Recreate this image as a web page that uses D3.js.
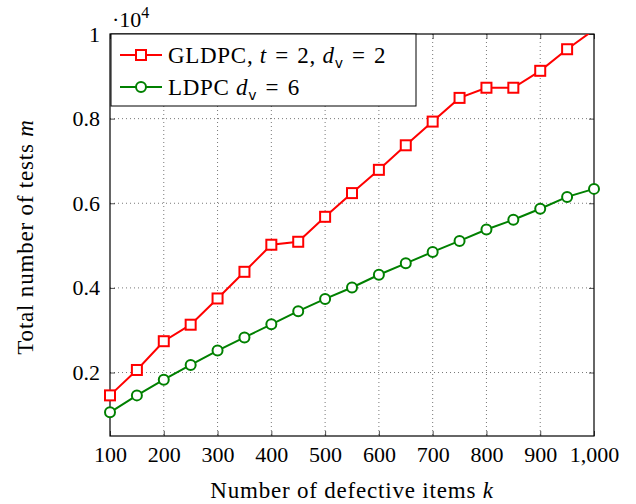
<!DOCTYPE html>
<html>
<head>
<meta charset="utf-8">
<script src="https://cdn.jsdelivr.net/npm/d3@7"></script>
<style>
  body { margin: 0; background: #fff; }
  text { font-family: "Liberation Serif", "Times New Roman", serif; fill: #000; }
</style>
</head>
<body>
<div id="chart"></div>
<script>
// number of defective items k
const kValues = [100, 150, 200, 250, 300, 350, 400, 450, 500, 550, 600, 650, 700, 750, 800, 850, 900, 950, 1000];
// total number of tests m (x 10^4)
const gldpc = [0.146, 0.206, 0.274, 0.313, 0.375, 0.438, 0.502, 0.509, 0.568, 0.624, 0.679, 0.737, 0.793, 0.849, 0.873, 0.873, 0.913, 0.964, 1.010];
const ldpc  = [0.106, 0.146, 0.183, 0.218, 0.252, 0.283, 0.314, 0.345, 0.374, 0.401, 0.431, 0.458, 0.485, 0.511, 0.538, 0.561, 0.587, 0.615, 0.634];
const xTicks = [100, 200, 300, 400, 500, 600, 700, 800, 900, 1000];
const yTicks = [0.2, 0.4, 0.6, 0.8, 1.0];

const width = 636, height = 504;
const margin = {top: 34, right: 42, bottom: 68, left: 110};
const w = width - margin.left - margin.right;
const h = height - margin.top - margin.bottom;

const svg = d3.select("#chart").append("svg")
    .attr("width", width)
    .attr("height", height);

const g = svg.append("g")
    .attr("transform", `translate(${margin.left},${margin.top})`);

const x = d3.scaleLinear().domain([100, 1000]).range([0, w]);
const y = d3.scaleLinear().domain([0.05, 1.0]).range([h, 0]);

// dotted grid
g.append("g")
    .selectAll("line")
    .data(yTicks.filter(v => v < 1))
    .enter().append("line")
    .attr("x1", 0).attr("x2", w)
    .attr("y1", d => y(d)).attr("y2", d => y(d))
    .attr("stroke", "#555")
    .attr("stroke-width", 0.8)
    .attr("stroke-dasharray", "1,3");

g.append("g")
    .selectAll("line")
    .data(xTicks.filter(v => v > 100 && v < 1000))
    .enter().append("line")
    .attr("x1", d => x(d)).attr("x2", d => x(d))
    .attr("y1", 0).attr("y2", h)
    .attr("stroke", "#555")
    .attr("stroke-width", 0.8)
    .attr("stroke-dasharray", "1,3");

// axes, ticks pointing inward
const xAxis = g.append("g")
    .attr("transform", `translate(0,${h})`)
    .call(d3.axisBottom(x).tickValues(xTicks).tickSizeInner(-5).tickSizeOuter(0)
        .tickPadding(10).tickFormat(d3.format(",")));
const xAxisTop = g.append("g")
    .call(d3.axisTop(x).tickValues(xTicks).tickSizeInner(-5).tickSizeOuter(0).tickFormat(""));
const yAxis = g.append("g")
    .call(d3.axisLeft(y).tickValues(yTicks).tickSizeInner(-5).tickSizeOuter(0)
        .tickPadding(10).tickFormat(d => d === 1 ? "1" : d3.format(".1f")(d)));
const yAxisRight = g.append("g")
    .attr("transform", `translate(${w},0)`)
    .call(d3.axisRight(y).tickValues(yTicks).tickSizeInner(-5).tickSizeOuter(0).tickFormat(""));

[xAxis, xAxisTop, yAxis, yAxisRight].forEach(a => {
    a.select(".domain").remove();
    a.selectAll("line").attr("stroke", "#222").attr("stroke-width", 0.8);
    a.selectAll("text").attr("font-size", 22).attr("font-family", "Liberation Serif").attr("fill", "#000");
});

g.append("rect")
    .attr("width", w).attr("height", h)
    .attr("fill", "none")
    .attr("stroke", "#000")
    .attr("stroke-width", 1.2);

// data
g.append("clipPath").attr("id", "clip")
    .append("rect").attr("x", -8).attr("y", 0).attr("width", w + 16).attr("height", h + 8);

const series = [
    {values: gldpc, color: "#ff0000", marker: "square"},
    {values: ldpc, color: "#008000", marker: "circle"}
];

const line = d3.line().x(d => x(d[0])).y(d => y(d[1]));

series.forEach(s => {
    const pts = kValues.map((k, i) => [k, s.values[i]]);
    const sg = g.append("g").attr("clip-path", "url(#clip)");
    sg.append("path")
        .datum(pts)
        .attr("d", line)
        .attr("fill", "none")
        .attr("stroke", s.color)
        .attr("stroke-width", 2);
    if (s.marker === "square") {
        sg.selectAll("rect")
            .data(pts.filter(p => p[1] <= 1))
            .enter().append("rect")
            .attr("x", d => x(d[0]) - 5).attr("y", d => y(d[1]) - 5)
            .attr("width", 10).attr("height", 10)
            .attr("fill", "#fff").attr("stroke", s.color).attr("stroke-width", 2);
    } else {
        sg.selectAll("circle")
            .data(pts)
            .enter().append("circle")
            .attr("cx", d => x(d[0])).attr("cy", d => y(d[1]))
            .attr("r", 5)
            .attr("fill", "#fff").attr("stroke", s.color).attr("stroke-width", 2);
    }
});

// legend
const lg = g.append("g");
lg.append("rect")
    .attr("x", 1).attr("y", 0).attr("width", 305).attr("height", 72)
    .attr("fill", "#fff").attr("stroke", "#000").attr("stroke-width", 1);

const eq = "\u2004=\u2004";
const legendRows = [
    {color: "#ff0000", marker: "square", y: 21,
     parts: [["GLDPC, ", ""], ["t", "i"], [eq + "2, ", ""], ["d", "i"], ["v", "sub"], [eq + "2", "after"]]},
    {color: "#008000", marker: "circle", y: 53,
     parts: [["LDPC ", ""], ["d", "i"], ["v", "sub"], [eq + "6", "after"]]}
];

legendRows.forEach(r => {
    lg.append("line")
        .attr("x1", 10).attr("x2", 52).attr("y1", r.y).attr("y2", r.y)
        .attr("stroke", r.color).attr("stroke-width", 2);
    if (r.marker === "square") {
        lg.append("rect")
            .attr("x", 26).attr("y", r.y - 5).attr("width", 10).attr("height", 10)
            .attr("fill", "#fff").attr("stroke", r.color).attr("stroke-width", 2);
    } else {
        lg.append("circle")
            .attr("cx", 31).attr("cy", r.y).attr("r", 5)
            .attr("fill", "#fff").attr("stroke", r.color).attr("stroke-width", 2);
    }
    const t = lg.append("text")
        .attr("x", 58).attr("y", r.y + 8)
        .attr("font-size", 23)
        .attr("letter-spacing", 0.7)
        .attr("xml:space", "preserve");
    r.parts.forEach(p => {
        const ts = t.append("tspan").text(p[0]);
        if (p[1] === "i") ts.attr("font-style", "italic");
        if (p[1] === "sub") ts.attr("font-family", "DejaVu Sans").attr("font-size", 14).attr("dy", 5);
        if (p[1] === "after") ts.attr("dy", -5);
    });
});

// exponent label
const ex = svg.append("text")
    .attr("x", 112).attr("y", 27)
    .attr("font-size", 22);
ex.append("tspan").text("·10");
ex.append("tspan").text("4").attr("font-size", 16).attr("dy", -9);

// axis titles
const xl = svg.append("text")
    .attr("x", margin.left + w / 2).attr("y", 498)
    .attr("text-anchor", "middle")
    .attr("font-size", 23)
    .attr("letter-spacing", 0.8);
xl.append("tspan").text("Number of defective items ");
xl.append("tspan").text("k").attr("font-style", "italic");

const yl = svg.append("text")
    .attr("transform", `translate(33,${margin.top + h / 2 + 2}) rotate(-90)`)
    .attr("text-anchor", "middle")
    .attr("font-size", 23)
    .attr("letter-spacing", 0.8);
yl.append("tspan").text("Total number of tests ");
yl.append("tspan").text("m").attr("font-style", "italic");
</script>
</body>
</html>
